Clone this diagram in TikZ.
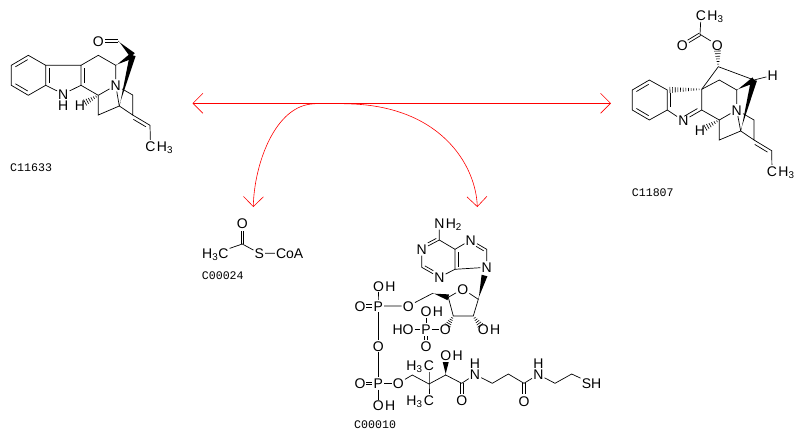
\documentclass[tikz,border=0pt]{standalone}
\usepackage{fontspec}
\setmainfont{Liberation Sans}
\newfontfamily\tagfont{Liberation Mono}
\usetikzlibrary{arrows.meta,calc,positioning}
\newcommand{\atomfont}{\fontsize{14}{14}\selectfont}
\tikzset{atom/.style={inner sep=1pt,text height=10pt,text depth=0pt,font=\atomfont},
         tail/.style={inner sep=0pt,text height=10pt,text depth=0pt,font=\atomfont},
         tag/.style={anchor=west,inner sep=0pt,font=\tagfont\fontsize{11.6}{11.6}\selectfont},
         bond/.style={draw,line width=0.7pt},
         react/.style={draw=red,line width=0.6pt,{Straight Barb[length=10pt,width=20pt,line width=0.6pt]}-{Straight Barb[length=10pt,width=20pt,line width=0.6pt]}},
         side/.style={draw=red,line width=0.6pt,-{Straight Barb[length=10pt,width=20pt,line width=0.6pt]}},
}
% thin end, thick end
\newcommand{\wedgebond}[2]{\fill ($(#1)!0.3pt!90:(#2)$) -- ($(#2)!3pt!90:(#1)$) -- ($(#2)!3pt!-90:(#1)$) -- ($(#1)!0.3pt!-90:(#2)$) -- cycle;}
% thin end, wide end, how far to go, number of strokes
\newcommand{\hashbond}[4]{\foreach \i in {1,...,#4}{\draw[line width=0.6pt] ($(#1)!\i/#4*#3!(#2)!0.5pt+\i/#4*2.8pt!90:(#2)$) -- ($(#1)!\i/#4*#3!(#2)!0.5pt+\i/#4*2.8pt!-90:(#2)$);}}
% second line of a double bond, #3 = 1 or -1 for the side
\newcommand{\innerbond}[3]{\draw[bond] ($(#1)!0.14!(#2)!3.4pt!#3*90:(#2)$) -- ($(#2)!0.14!(#1)!3.4pt!-#3*90:(#1)$);}
% double bond between two ends, with the room to keep free at each end
\newcommand{\dblbond}[4]{\draw[bond] ($(#1)!#3!(#2)!1.4pt!90:(#2)$) -- ($(#2)!#4!(#1)!1.4pt!-90:(#1)$);
  \draw[bond] ($(#1)!#3!(#2)!1.4pt!-90:(#2)$) -- ($(#2)!#4!(#1)!1.4pt!90:(#1)$);}
\begin{document}
\begin{tikzpicture}[x=1pt,y=-1pt]
\useasboundingbox (0,0) rectangle (803,439);
% reaction arrows
\coordinate (left tip) at (192.5,103.3);
\coordinate (right tip) at (611,103.3);
\coordinate (split a) at (315,103.8);
\coordinate (split b) at (344,103.8);
\coordinate (acetyl tip) at (253.3,207);
\coordinate (coa tip) at (477.3,207);
\draw[react] (left tip) -- (right tip);
\draw[side] (split a) .. controls (275,104) and (254,165) .. (acetyl tip);
\draw[side] (split b) .. controls (440,104) and (476,165) .. (coa tip);

% C11633
\coordinate (ra1) at (28.3,55.3);
\coordinate (ra2) at (45.7,65.3);
\coordinate (ra3) at (45.7,85.3);
\coordinate (ra4) at (28.3,95.3);
\coordinate (ra5) at (11.3,85.3);
\coordinate (ra6) at (11.3,65.3);
\coordinate (rb1) at (81,65.3);
\coordinate (rb2) at (81,85.3);
\coordinate (rc1) at (98.3,55.3);
\coordinate (rc2) at (115.7,65.3);
\coordinate (rc3) at (98.3,95.3);
\coordinate (rd1) at (98.3,115);
\coordinate (rd2) at (119.3,106);
\coordinate (rd3) at (132.7,55.3);
\coordinate (rd4) at (132.7,95);
\coordinate (rd5) at (132.7,115);
\coordinate (rd6) at (150,125.3);
\coordinate (rd7) at (118.3,41);
\node[atom,label distance=1.5pt,label={[tail]below:H}] (rnh) at (63.3,94) {N};
\node[atom] (rn) at (115.7,85.3) {N};
\node[atom] (rh) at (80,105.3) {H};
\node[atom] (ro) at (98.3,41) {O};
\node[atom,label={[tail]right:H\textsubscript{3}}] (rme) at (150.5,146) {C};
\draw[bond] (ra1) -- (ra2) -- (ra3) -- (ra4) -- (ra5) -- (ra6) -- (ra1);
\innerbond{ra1}{ra6}{1}
\innerbond{ra5}{ra4}{1}
\innerbond{ra2}{ra3}{1}
\draw[bond] (ra2) -- (rb1) -- (rb2) -- (rnh) -- (ra3);
\innerbond{rb1}{rb2}{1}
\draw[bond] (rb1) -- (rc1) -- (rc2) -- (rn) -- (rc3) -- (rb2);
\draw[bond] (rc3) -- (rd1) -- (rd2) -- (rn) -- (rd4) -- (rd5) -- (rd2);
\draw[bond] (rd5) -- (rd6) -- (rme);
\innerbond{rd5}{rd6}{-1}
\dblbond{ro}{rd7}{7pt}{0pt}
\wedgebond{rd7}{rd3}
\wedgebond{rc2}{rd3}
\wedgebond{rd2}{rd3}
\hashbond{rc3}{rh}{0.72}{6}
\node[tag] (c11633) at (10,168) {C11633};

% C11807
\coordinate (sa1) at (649.3,80);
\coordinate (sa2) at (667.3,90);
\coordinate (sa3) at (667.3,110);
\coordinate (sa4) at (649.3,120);
\coordinate (sa5) at (632.3,110);
\coordinate (sa6) at (632.3,90);
\coordinate (sb1) at (701.7,89.3);
\coordinate (sb2) at (701.7,110);
\coordinate (sc1) at (719.3,80);
\coordinate (sc2) at (736.7,90);
\coordinate (sc3) at (719.3,120);
\coordinate (sd1) at (719.3,140);
\coordinate (sd2) at (740.7,131);
\coordinate (sd3) at (754,80);
\coordinate (sd4) at (754,120);
\coordinate (sd5) at (754,140);
\coordinate (sd6) at (771.7,150.7);
\coordinate (se1) at (718.3,66.7);
\coordinate (se2) at (700,34.3);
\node[atom] (snn) at (683.3,120.7) {N};
\node[atom] (sn) at (736.7,110) {N};
\node[atom] (sh) at (700,130.7) {H};
\node[atom] (shh) at (772.7,75.3) {H};
\node[atom] (so) at (717.3,45) {O};
\node[atom] (soo) at (682.3,45) {O};
\node[atom,label={[tail]right:H\textsubscript{3}}] (sme) at (772,171) {C};
\node[atom,label={[tail]right:H\textsubscript{3}}] (stop) at (701,15.7) {C};
\draw[bond] (sa1) -- (sa2) -- (sa3) -- (sa4) -- (sa5) -- (sa6) -- (sa1);
\innerbond{sa1}{sa6}{1}
\innerbond{sa5}{sa4}{1}
\innerbond{sa2}{sa3}{1}
\draw[bond] (sa3) -- (snn);
\draw[bond] (snn) -- (sb2) -- (sb1) -- (sc1) -- (sc2) -- (sn) -- (sc3) -- (sb2);
\innerbond{snn}{sb2}{1}
\draw[bond] (sc3) -- (sd1) -- (sd2) -- (sn) -- (sd4) -- (sd5) -- (sd2);
\draw[bond] (sd5) -- (sd6) -- (sme);
\innerbond{sd5}{sd6}{-1}
\draw[bond] (sb1) -- (se1) -- (sd3) -- (shh);
\draw[bond] (so) -- (se2) -- (stop);
\dblbond{soo}{se2}{7pt}{0pt}
\wedgebond{sc2}{sd3}
\wedgebond{sd2}{sd3}
\hashbond{sb1}{sa2}{1}{13}
\hashbond{sc3}{sh}{0.72}{6}
\hashbond{se1}{so}{0.72}{6}
\node[tag] (c11807) at (631.7,193) {C11807};

% C00024
\coordinate (kc) at (242.3,244);
\node[atom] (ko) at (242.3,223.3) {O};
\node[atom] (kme) at (215.3,253.3) {H\textsubscript{3}C};
\node[atom] (ks) at (259.3,253.3) {S};
\node[atom] (kcoa) at (289.7,253.3) {CoA};
\dblbond{ko}{kc}{8pt}{0pt}
\draw[bond] (kme) -- (kc) -- (ks) -- (kcoa);
\node[tag] (c00024) at (201.7,276) {C00024};

% C00010, adenine
\coordinate (tc6) at (439.3,240);
\coordinate (tc2) at (421.7,267.3);
\coordinate (tc4) at (455,269.3);
\coordinate (tc5) at (455,249.3);
\coordinate (tc8) at (486.7,249.3);
\node[atom,label={[tail]right:H\textsubscript{2}}] (tnh) at (439.3,223.3) {N};
\node[atom] (tn1) at (421.7,249.3) {N};
\node[atom] (tn3) at (439.3,277.3) {N};
\node[atom] (tn7) at (470.7,240) {N};
\node[atom] (tn9) at (486.7,267.3) {N};
\draw[bond] (tnh) -- (tc6) -- (tc5) -- (tc4) -- (tn3) -- (tc2) -- (tn1) -- (tc6);
\draw[bond] (tc5) -- (tn7) -- (tc8) -- (tn9) -- (tc4);
\innerbond{tc5}{tc4}{1}
\draw[bond] ($(tn1)!0.42!(tc6)!2.8pt!90:(tc6)$) -- ($(tc6)!0.1!(tn1)!2.8pt!-90:(tn1)$);
\draw[bond] ($(tc2)!0.1!(tn3)!2.8pt!90:(tn3)$) -- ($(tn3)!0.42!(tc2)!2.8pt!-90:(tc2)$);
\draw[bond] ($(tn7)!0.42!(tc8)!2.8pt!-90:(tc8)$) -- ($(tc8)!0.1!(tn7)!2.8pt!90:(tn7)$);
% ribose
\coordinate (tr1) at (478.3,299.3);
\coordinate (tr2) at (473.3,316);
\coordinate (tr3) at (453.3,316);
\coordinate (tr4) at (448.3,297.3);
\coordinate (tr5) at (432.7,293.3);
\coordinate (tw9) at (484.5,275.5);
\node[atom] (tro) at (462.7,289) {O};
\node[atom] (to5) at (408.3,306) {O};
\node[atom] (to3) at (445.3,329.3) {O};
\node[atom,label={[tail]right:H}] (to2) at (483.3,329.3) {O};
\draw[bond] (tr4) -- (tro) -- (tr1) -- (tr2) -- (tr3) -- (tr4);
\draw[bond] (to5) -- (tr5);
\wedgebond{tr1}{tw9}
\wedgebond{tr5}{tr4}
\hashbond{tr3}{to3}{0.7}{5}
\hashbond{tr2}{to2}{0.7}{5}
% phosphates
\node[atom] (tp3) at (426,329.3) {P};
\node[atom,label={[tail]right:H}] (tp3a) at (426,311.7) {O};
\node[atom] (tp3b) at (403,329.3) {HO};
\node[atom] (tp3c) at (426,346.7) {O};
\draw[bond] (tp3a) -- (tp3) -- (to3);
\draw[bond] (tp3b) -- (tp3);
\dblbond{tp3}{tp3c}{7pt}{7pt}
\node[atom] (tpa) at (378.3,306) {P};
\node[atom,label={[tail]right:H}] (tpaa) at (378.5,286) {O};
\node[atom] (tpab) at (360,306) {O};
\node[atom] (tbr) at (378.3,346) {O};
\node[atom] (tpb) at (378.3,383.3) {P};
\node[atom] (tpbb) at (360,383.3) {O};
\node[atom,label={[tail]right:H}] (tpbc) at (378.3,405.7) {O};
\node[atom] (to1) at (398.3,383.3) {O};
\draw[bond] (tpaa) -- (tpa) -- (to5);
\dblbond{tpab}{tpa}{6pt}{6pt}
\draw[bond] (tpa) -- (tbr) -- (tpb) -- (tpbc);
\dblbond{tpbb}{tpb}{6pt}{6pt}
\draw[bond] (tpb) -- (to1);
% pantetheine chain
\coordinate (tk1) at (412.3,375);
\coordinate (tk2) at (429,384);
\coordinate (tk3) at (445.7,375);
\coordinate (tk4) at (461.7,383.3);
\coordinate (tk5) at (492.3,383.3);
\coordinate (tk6) at (508.3,374);
\coordinate (tk7) at (524,383.3);
\coordinate (tk8) at (555,383.3);
\coordinate (tk9) at (571.7,374);
\coordinate (tw3) at (445.7,362);
\node[atom,label={[tail]left:H\textsubscript{3}}] (tm1) at (429,365.7) {C};
\node[atom,label={[tail]left:H\textsubscript{3}}] (tm2) at (429,400) {C};
\node[atom,label={[tail]right:H}] (toh) at (445.7,355.7) {O};
\node[atom] (to4) at (461.7,400.5) {O};
\node[atom,label distance=1.5pt,label={[tail]above:H}] (tna) at (475,374.5) {N};
\node[atom] (to6) at (524,401) {O};
\node[atom,label distance=1.5pt,label={[tail]above:H}] (tnb) at (538.3,374.5) {N};
\node[atom] (tsh) at (591.5,383.3) {SH};
\draw[bond] (to1) -- (tk1) -- (tk2) -- (tk3) -- (tk4) -- (tna) -- (tk5) -- (tk6) -- (tk7) -- (tnb) -- (tk8) -- (tk9) -- (tsh);
\draw[bond] (tm1) -- (tk2) -- (tm2);
\dblbond{tk4}{to4}{0pt}{7pt}
\dblbond{tk7}{to6}{0pt}{7pt}
\wedgebond{tk3}{tw3}
\node[tag] (c00010) at (354,425) {C00010};
\end{tikzpicture}
\end{document}
